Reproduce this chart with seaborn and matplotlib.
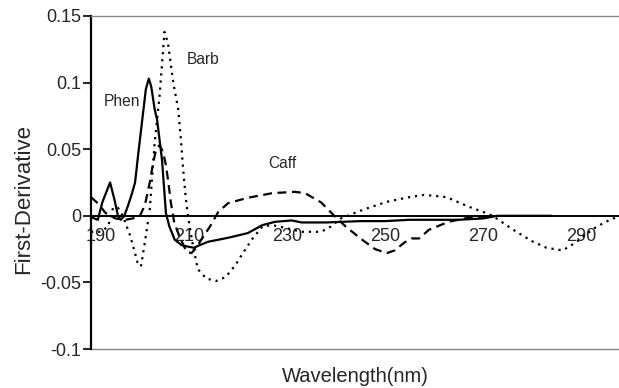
import numpy as np
import pandas as pd
import matplotlib
matplotlib.use("Agg")
import matplotlib.pyplot as plt
import matplotlib.transforms as mtransforms
import seaborn as sns

# ------ Dados ------ #

phen_x = [190, 191.4, 192.3, 193.9, 194.8, 195.5, 196.1, 196.8, 197.5, 198.3, 199, 199.6,
          200.4, 201.2, 201.8, 202.3, 203, 203.5, 204.5, 205.3, 206, 207.1, 208.5, 209.6,
          211, 212.2, 213.9, 218, 222, 225, 227.6, 231, 233, 238, 245, 250, 255, 260,
          265, 270, 273, 284]
phen_y = [-0.001, -0.003, 0.01, 0.025, 0.012, 0.0, -0.003, 0.0, 0.007, 0.016, 0.025, 0.045,
          0.07, 0.095, 0.103, 0.097, 0.08, 0.072, 0.042, 0.002, -0.008, -0.018, -0.022, -0.023,
          -0.024, -0.022, -0.0195, -0.0165, -0.013, -0.007, -0.0045, -0.0035, -0.005, -0.005,
          -0.004, -0.004, -0.003, -0.003, -0.003, -0.002, 0.0, 0.0]

barb_x = [190, 192, 193.5, 194.5, 195.5, 196.5, 198, 199.5, 200.2, 201, 202, 203, 204, 205,
          205.7, 206.8, 207.8, 208.3, 208.8, 209.3, 209.8, 210.8, 211.8, 213.5, 215.5, 217.5,
          219.5, 221, 223, 225, 227, 229.6, 233, 237, 239, 241, 245.5, 250.4, 255, 258, 260,
          262.6, 267, 270, 272, 276, 280, 283, 286.3, 289, 291, 293.3, 296, 298]
barb_y = [-0.012, -0.012, -0.008, 0.006, 0.006, 0.0, -0.015, -0.035, -0.038, -0.02, 0.005,
          0.055, 0.09, 0.138, 0.13, 0.10, 0.08, 0.06, 0.036, 0.015, 0.0, -0.022, -0.04, -0.047,
          -0.049, -0.046, -0.037, -0.028, -0.017, -0.008, -0.007, -0.009, -0.012, -0.012,
          -0.008, -0.002, 0.0045, 0.0105, 0.014, 0.0157, 0.015, 0.014, 0.007, 0.003, 0.0,
          -0.01, -0.019, -0.024, -0.026, -0.02, -0.014, -0.008, -0.003, 0.0]

caff_x = [190, 191.5, 193, 195, 197, 198.5, 200, 201, 202, 202.7, 203.3, 204, 204.7, 205.3,
          205.8, 206.3, 207, 208, 209.5, 210.5, 211.5, 212.5, 214.3, 216, 218, 222, 227,
          231.6, 233.7, 237, 240.2, 242, 245, 248, 250.4, 252, 254, 255.5, 257, 259, 263,
          267, 272]
caff_y = [0.014, 0.009, 0.002, -0.002, -0.003, -0.002, 0.0, 0.008, 0.025, 0.04, 0.05, 0.053,
          0.048, 0.038, 0.025, 0.01, -0.005, -0.015, -0.027, -0.028, -0.024, -0.018, -0.008,
          0.003, 0.0095, 0.0135, 0.017, 0.018, 0.017, 0.01, -0.002, -0.008, -0.017, -0.025,
          -0.028, -0.026, -0.02, -0.017, -0.017, -0.0105, -0.0045, -0.0015, 0.0]

x_ticks = [190, 210, 230, 250, 270, 290]
y_ticks = [-0.1, -0.05, 0, 0.05, 0.1, 0.15]
y_tick_labels = ["-0.1", "-0.05", "0", "0.05", "0.1", "0.15"]

# ------ Gráfico ------ #

sns.set_style("white")
plt.rcParams['font.family'] = ['Liberation Sans', 'DejaVu Sans']
plt.rcParams['axes.unicode_minus'] = False

fig = plt.figure(figsize=(6.19, 3.88), dpi=100)
ax = fig.add_axes([0.147, 0.1005, 0.853, 0.8583])

sns.lineplot(x=phen_x, y=phen_y, color='black', linewidth=1.6, linestyle='-', ax=ax)
sns.lineplot(x=barb_x, y=barb_y, color='black', linewidth=1.6, linestyle=(0, (1, 2.2)), ax=ax)
sns.lineplot(x=caff_x, y=caff_y, color='black', linewidth=1.6, linestyle=(0, (4, 2.5)), ax=ax)

ax.set_xlim(190, 297.8)
ax.set_ylim(-0.1, 0.15)

# eixo x na linha do zero
ax.spines['bottom'].set_position(('data', 0))
ax.spines['bottom'].set_color('black')
ax.spines['bottom'].set_linewidth(1.4)
ax.spines['right'].set_visible(False)
ax.spines['top'].set_color('#888888')
ax.spines['top'].set_linewidth(1.0)
ax.spines['left'].set_color('black')
ax.spines['left'].set_linewidth(1.6)
ax.axhline(-0.1, color='#888888', linewidth=1.0, clip_on=False)

ax.set_xticks(x_ticks)
ax.set_xticklabels([str(t) for t in x_ticks])
ax.set_yticks(y_ticks)
ax.set_yticklabels(y_tick_labels)
ax.tick_params(axis='x', direction='out', length=4, width=1.2, color='black',
               labelsize=13, pad=5)
ax.tick_params(axis='y', direction='out', length=6, width=1.2, color='black',
               labelsize=13, pad=1, left=True)

# o rótulo 190 fica um pouco à direita do eixo
lbl190 = ax.get_xticklabels()[0]
lbl190.set_transform(lbl190.get_transform() +
                     mtransforms.ScaledTranslation(10 / 100, 0, fig.dpi_scale_trans))

ax.set_ylabel("First-Derivative", fontsize=16)
ax.yaxis.set_label_coords(-0.108, 0.45)
ax.set_xlabel("Wavelength(nm)", fontsize=14.5)
ax.xaxis.set_label_coords(0.5, -0.055)

ax.text(196.3, 0.0855, "Phen", fontsize=11.2, ha='center', va='center')
ax.text(212.9, 0.117, "Barb", fontsize=11.2, ha='center', va='center')
ax.text(229, 0.039, "Caff", fontsize=11.2, ha='center', va='center')

fig.savefig("out.png", dpi=100)
